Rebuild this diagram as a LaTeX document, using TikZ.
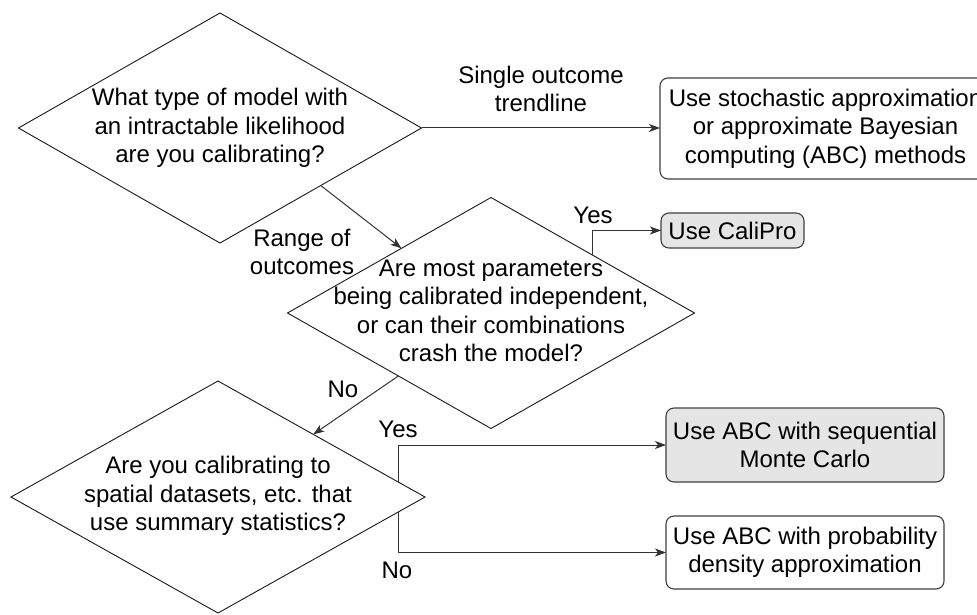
\documentclass[tikz,border=0pt]{standalone}
\usepackage{fontspec}
\setmainfont{Liberation Sans}
\usetikzlibrary{shapes.geometric,arrows.meta,calc}
\begin{document}
\begin{tikzpicture}[x=1pt,y=-1pt,
  dia/.style={shape=diamond, draw=black!90, line width=0.9pt, inner sep=0pt, outer sep=0pt},
  box/.style={draw=black!75, line width=1.1pt, rounded corners=8pt, inner sep=0pt, outer sep=0pt},
  txt/.style={align=center, inner sep=0pt, font=\fontsize{24}{28.5}\selectfont},
  arr/.style={-{Stealth[length=11pt,width=8pt,inset=3pt]}, draw=black!80, line width=1pt},
  grayfill/.style={fill=black!10}]
\fill[white] (0,0) rectangle (977,615);
\useasboundingbox (0,0) rectangle (977,615);

% decision diamonds
\node[dia, minimum width=403pt, minimum height=230pt] (d1) at (220,128) {};
\node[txt] (t1) at (220,128) {What type of model with\\an intractable likelihood\\are you calibrating?};

\node[dia, minimum width=407pt, minimum height=231pt] (d2) at (491,313) {};
\node[txt] (t2) at (491,311) {Are most parameters\\being calibrated independent,\\or can their combinations\\crash the model?};

\node[dia, minimum width=414pt, minimum height=232pt] (d3) at (218,497) {};
\node[txt] (t3) at (218,496) {Are you calibrating to\\spatial datasets, etc. that\\use summary statistics?};

% outcome boxes
\node[box, txt, minimum width=331pt, minimum height=101pt] (stoch) at (825.5,128.5)
  {Use stochastic approximation\\or approximate Bayesian\\computing (ABC) methods};
\node[box, txt, grayfill, minimum width=143pt, minimum height=35pt] (cali) at (732.5,230.5)
  {Use CaliPro};
\node[box, txt, grayfill, minimum width=278pt, minimum height=74pt] (smc) at (805,445)
  {Use ABC with sequential\\Monte Carlo};
\node[box, txt, minimum width=278pt, minimum height=73pt] (prob) at (805,552.5)
  {Use ABC with probability\\density approximation};

% connectors
\draw[arr] (d1.east) -- (stoch.west |- d1.east);
\draw[arr] ($(d1.east)!0.5!(d1.south)$) -- ($(d2.west)!0.56!(d2.north)$);
\draw[arr] ($(d2.north)!0.5!(d2.east)$) |- (cali.west);
\draw[arr] ($(d2.west)!0.545!(d2.south)$) -- ($(d3.north)!0.46!(d3.east)$);
\draw[arr] ($(d3.north)!0.87!(d3.east)$) |- (smc.west);
\draw[arr] ($(d3.east)!0.13!(d3.south)$) |- (prob.west);

% connector labels
\node[txt] (lsingle) at (541,89) {Single outcome\\trendline};
\node[txt] (lrange) at (302,252) {Range of\\outcomes};
\node[txt] (lyes1) at (593,215) {Yes};
\node[txt] (lno1) at (343,389) {No};
\node[txt] (lyes2) at (398,429) {Yes};
\node[txt] (lno2) at (397,570) {No};
\end{tikzpicture}
\end{document}
